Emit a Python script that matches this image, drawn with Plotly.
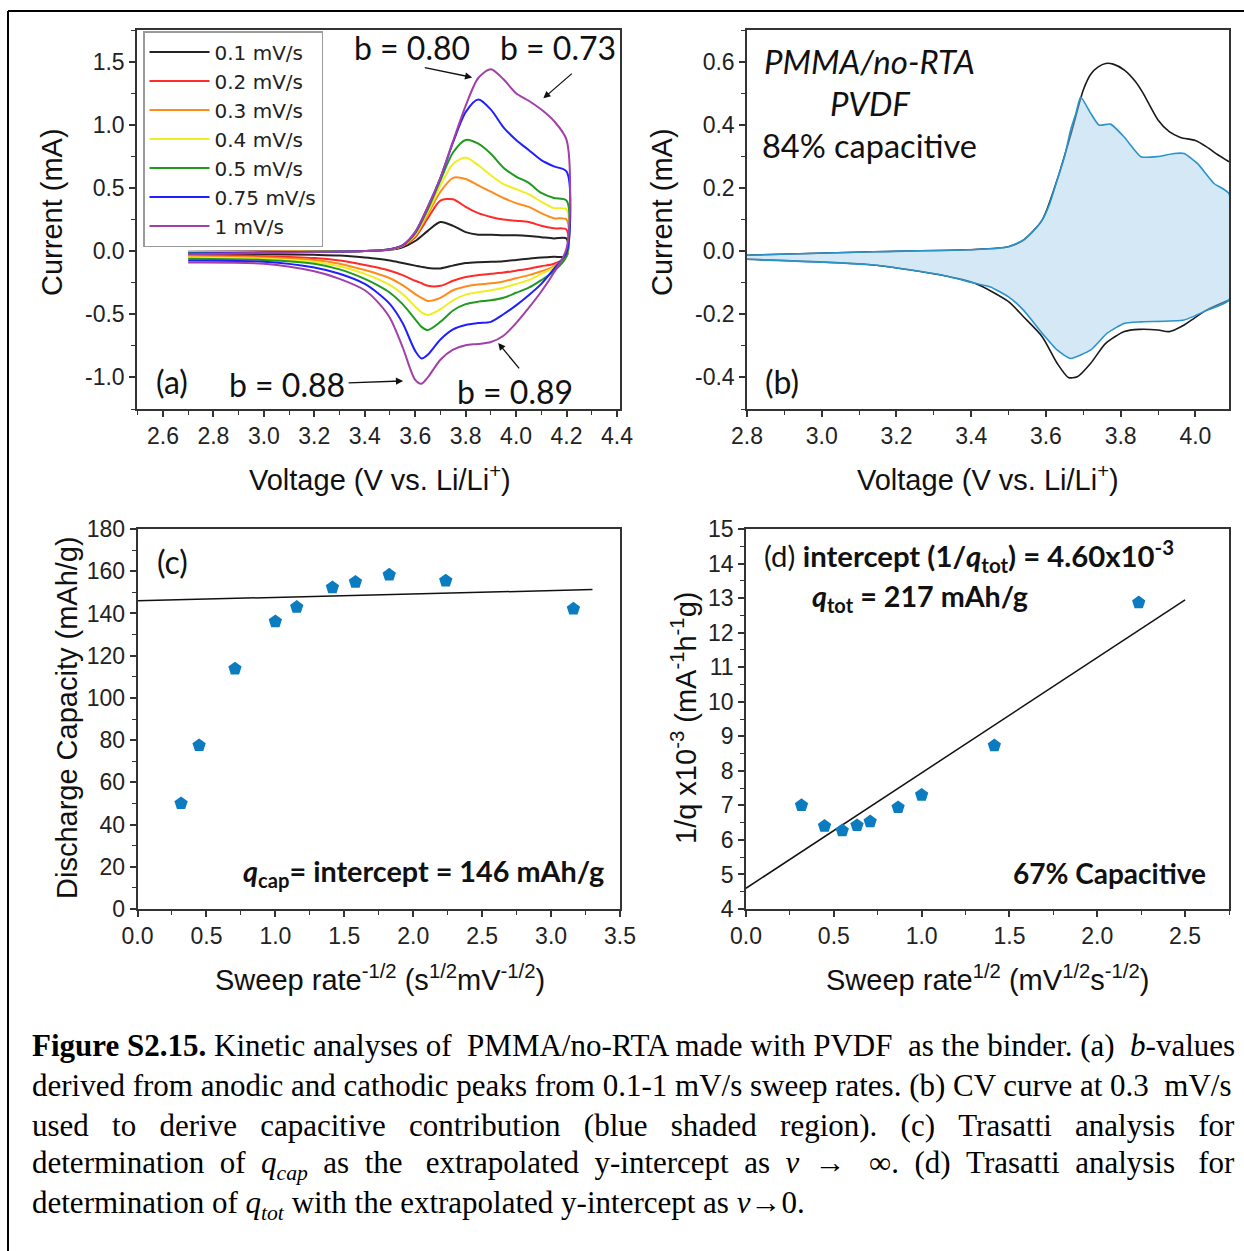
import plotly.graph_objects as go

W, H = 1244, 1251

# ---------------- data: panel (a) CV at several sweep rates ----------------
rates = ["0.1 mV/s", "0.2 mV/s", "0.3 mV/s", "0.4 mV/s", "0.5 mV/s", "0.75 mV/s", "1 mV/s"]
rate_colors = ["#222222", "#ff2a2a", "#ff8c1a", "#eeee22", "#1f9a1f", "#2020ff", "#a040a8"]

v_up = [2.7, 3.0, 3.2, 3.4, 3.5, 3.55, 3.6, 3.65, 3.7, 3.75, 3.8, 3.85, 3.9, 3.95, 4.0, 4.05, 4.1, 4.15, 4.2]
i_up_01 = [-0.005, -0.003, -0.002, 0.0, 0.01, 0.03, 0.08, 0.16, 0.23, 0.20, 0.15, 0.13, 0.13, 0.125, 0.125, 0.12, 0.11, 0.10, 0.10]
i_up_02 = [-0.008, -0.005, -0.003, 0.0, 0.012, 0.04, 0.11, 0.26, 0.40, 0.41, 0.35, 0.30, 0.27, 0.25, 0.24, 0.23, 0.20, 0.18, 0.17]
i_up_03 = [-0.01, -0.006, -0.003, 0.0, 0.013, 0.042, 0.12, 0.29, 0.47, 0.58, 0.57, 0.52, 0.47, 0.42, 0.38, 0.35, 0.30, 0.26, 0.25]
i_up_04 = [-0.012, -0.008, -0.004, 0.0, 0.014, 0.044, 0.13, 0.31, 0.52, 0.69, 0.74, 0.68, 0.60, 0.53, 0.49, 0.45, 0.39, 0.34, 0.33]
i_up_05 = [-0.015, -0.01, -0.005, 0.0, 0.015, 0.045, 0.14, 0.33, 0.56, 0.78, 0.88, 0.85, 0.77, 0.66, 0.59, 0.54, 0.46, 0.42, 0.40]
i_up_075 = [-0.02, -0.012, -0.006, 0.0, 0.015, 0.046, 0.15, 0.35, 0.58, 0.86, 1.10, 1.20, 1.12, 0.98, 0.88, 0.80, 0.72, 0.67, 0.63]
i_up_1 = [-0.025, -0.015, -0.008, 0.0, 0.015, 0.046, 0.15, 0.35, 0.58, 0.87, 1.15, 1.37, 1.44, 1.36, 1.25, 1.19, 1.12, 1.03, 0.88]

v_dn = [2.7, 3.0, 3.2, 3.3, 3.4, 3.45, 3.5, 3.55, 3.6, 3.625, 3.65, 3.7, 3.75, 3.8, 3.85, 3.9, 3.95, 4.0, 4.05, 4.1, 4.15, 4.2]
i_dn_01 = [-0.02, -0.025, -0.03, -0.035, -0.05, -0.06, -0.075, -0.095, -0.115, -0.125, -0.133, -0.137, -0.115, -0.095, -0.088, -0.085, -0.08, -0.07, -0.06, -0.05, -0.045, -0.04]
i_dn_02 = [-0.03, -0.04, -0.055, -0.075, -0.11, -0.13, -0.155, -0.19, -0.235, -0.255, -0.275, -0.275, -0.235, -0.205, -0.19, -0.18, -0.17, -0.155, -0.14, -0.12, -0.10, -0.04]
i_dn_03 = [-0.04, -0.05, -0.07, -0.10, -0.15, -0.18, -0.215, -0.27, -0.34, -0.37, -0.395, -0.37, -0.31, -0.28, -0.265, -0.255, -0.24, -0.215, -0.19, -0.16, -0.12, -0.04]
i_dn_04 = [-0.05, -0.06, -0.085, -0.12, -0.18, -0.22, -0.27, -0.34, -0.44, -0.485, -0.505, -0.46, -0.39, -0.345, -0.325, -0.31, -0.29, -0.26, -0.23, -0.18, -0.13, -0.04]
i_dn_05 = [-0.06, -0.07, -0.10, -0.145, -0.22, -0.27, -0.33, -0.42, -0.54, -0.60, -0.625, -0.56, -0.47, -0.42, -0.40, -0.39, -0.37, -0.33, -0.29, -0.23, -0.16, -0.04]
i_dn_075 = [-0.075, -0.085, -0.13, -0.18, -0.26, -0.33, -0.42, -0.57, -0.79, -0.85, -0.82, -0.70, -0.62, -0.585, -0.57, -0.56, -0.50, -0.43, -0.35, -0.26, -0.14, -0.01]
i_dn_1 = [-0.09, -0.10, -0.16, -0.22, -0.31, -0.40, -0.53, -0.76, -1.02, -1.05, -1.00, -0.86, -0.78, -0.745, -0.735, -0.72, -0.67, -0.57, -0.45, -0.32, -0.17, 0.02]

up_sets = [i_up_01, i_up_02, i_up_03, i_up_04, i_up_05, i_up_075, i_up_1]
dn_sets = [i_dn_01, i_dn_02, i_dn_03, i_dn_04, i_dn_05, i_dn_075, i_dn_1]

# ---------------- data: panel (b) CV at 0.3 mV/s ----------------
tot_up_v = [2.8, 3.14, 3.41, 3.5, 3.54, 3.59, 3.63, 3.67, 3.70, 3.72, 3.74, 3.76, 3.78, 3.81, 3.84, 3.86, 3.90, 3.93, 3.96, 4.0, 4.03, 4.06, 4.09]
tot_up_i = [-0.013, -0.002, 0.005, 0.014, 0.035, 0.098, 0.225, 0.383, 0.51, 0.56, 0.583, 0.594, 0.592, 0.573, 0.536, 0.50, 0.415, 0.378, 0.36, 0.35, 0.33, 0.305, 0.283]
tot_dn_v = [2.8, 3.14, 3.32, 3.41, 3.5, 3.54, 3.59, 3.63, 3.66, 3.684, 3.72, 3.76, 3.81, 3.85, 3.90, 3.93, 3.97, 3.99, 4.03, 4.09]
tot_dn_i = [-0.026, -0.044, -0.076, -0.102, -0.16, -0.208, -0.271, -0.355, -0.40, -0.398, -0.355, -0.292, -0.255, -0.248, -0.25, -0.255, -0.234, -0.218, -0.187, -0.155]

cap_up_v = [2.8, 3.14, 3.41, 3.5, 3.54, 3.565, 3.59, 3.61, 3.63, 3.65, 3.666, 3.68, 3.693, 3.72, 3.742, 3.773, 3.809, 3.854, 3.898, 3.943, 3.97, 4.006, 4.05, 4.09]
cap_up_i = [-0.013, -0.002, 0.005, 0.014, 0.035, 0.062, 0.098, 0.15, 0.225, 0.30, 0.383, 0.435, 0.488, 0.436, 0.399, 0.402, 0.362, 0.299, 0.299, 0.309, 0.309, 0.277, 0.214, 0.182]
cap_dn_v = [2.8, 3.14, 3.32, 3.41, 3.45, 3.5, 3.54, 3.59, 3.63, 3.666, 3.72, 3.764, 3.809, 3.854, 3.97, 4.032, 4.09]
cap_dn_i = [-0.026, -0.044, -0.076, -0.102, -0.113, -0.145, -0.187, -0.26, -0.313, -0.34, -0.313, -0.26, -0.229, -0.224, -0.218, -0.187, -0.155]

# ---------------- data: panel (c) Trasatti, q vs v^-1/2 ----------------
c_x = [0.316, 0.447, 0.707, 1.0, 1.155, 1.414, 1.581, 1.826, 2.236, 3.162]
c_q = [50.0, 77.5, 113.8, 136.2, 143.0, 152.3, 154.9, 158.3, 155.5, 142.2]
c_fit_x = [0.0, 3.3]
c_fit_q = [146.0, 151.3]

# ---------------- data: panel (d) Trasatti, 1/q vs v^1/2 ----------------
d_x = [0.316, 0.447, 0.548, 0.632, 0.707, 0.866, 1.0, 1.414, 2.236]
d_invq = [7.00, 6.40, 6.27, 6.42, 6.53, 6.94, 7.30, 8.73, 12.87]
d_fit_x = [0.0, 2.5]
d_fit_invq = [4.60, 12.95]

# tick values
a_yticks = [-1.0, -0.5, 0.0, 0.5, 1.0, 1.5]
b_yticks = [-0.4, -0.2, 0.0, 0.2, 0.4, 0.6]

# ---------------- styling helpers ----------------
SANS = "Liberation Sans, Arial, sans-serif"
CAL = "Lato, Carlito, Calibri, sans-serif"
SERIF = "Liberation Serif, Times New Roman, serif"
AX = "#333333"
MARK = "#0b7cc0"


def px(x):
    return x / W


def py(y):
    return 1 - y / H


fig = go.Figure()

# panel (a)
for name, col, iu, idn in zip(rates, rate_colors, up_sets, dn_sets):
    fig.add_trace(go.Scatter(
        x=v_up + v_dn[::-1], y=iu + idn[::-1], mode="lines", name=name,
        line=dict(color=col, width=2, shape="spline", smoothing=0.8),
        xaxis="x", yaxis="y", showlegend=True))

# panel (b)
fig.add_trace(go.Scatter(x=tot_up_v, y=tot_up_i, mode="lines", showlegend=False,
                         line=dict(color="#1a1a1a", width=1.6, shape="spline", smoothing=0.7),
                         xaxis="x2", yaxis="y2"))
fig.add_trace(go.Scatter(x=tot_dn_v, y=tot_dn_i, mode="lines", showlegend=False,
                         line=dict(color="#1a1a1a", width=1.6, shape="spline", smoothing=0.7),
                         xaxis="x2", yaxis="y2"))
fig.add_trace(go.Scatter(x=cap_up_v + cap_dn_v[::-1], y=cap_up_i + cap_dn_i[::-1], mode="lines",
                         showlegend=False, fill="toself", fillcolor="rgba(160,205,235,0.45)",
                         line=dict(color="#2a93cc", width=1.6, shape="spline", smoothing=0.5),
                         xaxis="x2", yaxis="y2"))

# panel (c)
fig.add_trace(go.Scatter(x=c_fit_x, y=c_fit_q, mode="lines", showlegend=False,
                         line=dict(color="#111111", width=1.5), xaxis="x3", yaxis="y3"))
fig.add_trace(go.Scatter(x=c_x, y=c_q, mode="markers", showlegend=False,
                         marker=dict(symbol="pentagon", size=14, color=MARK, line=dict(width=0)),
                         xaxis="x3", yaxis="y3"))

# panel (d)
fig.add_trace(go.Scatter(x=d_fit_x, y=d_fit_invq, mode="lines", showlegend=False,
                         line=dict(color="#111111", width=1.5), xaxis="x4", yaxis="y4"))
fig.add_trace(go.Scatter(x=d_x, y=d_invq, mode="markers", showlegend=False,
                         marker=dict(symbol="pentagon", size=14, color=MARK, line=dict(width=0)),
                         xaxis="x4", yaxis="y4"))


def axis(domain, rng, dtick, minor_dtick, anchor, fmt=None, tick0=None, tickvals=None):
    d = dict(domain=domain, range=rng, dtick=dtick, anchor=anchor, automargin=False,
             showgrid=False, zeroline=False, showline=True, linecolor=AX, linewidth=1.5,
             mirror=True, ticks="outside", ticklen=6, tickwidth=1.5, tickcolor=AX,
             tickfont=dict(family=SANS, size=23, color="#222222"),
             minor=dict(dtick=minor_dtick, ticks="outside", ticklen=4, tickwidth=1.2, tickcolor=AX, showgrid=False))
    if fmt:
        d["tickformat"] = fmt
    if tick0 is not None:
        d["tick0"] = tick0
        d["minor"]["tick0"] = tick0
    if tickvals is not None:
        d["tickmode"] = "array"
        d["tickvals"] = tickvals
        d["ticktext"] = ["%.1f" % v for v in tickvals]
    return d


xa = [px(137), px(619.5)]
xb = [px(747), px(1229)]
xc = [px(137.5), px(620)]
xd = [px(746), px(1229)]
ytop = [py(409), py(30)]
ybot = [py(909), py(529)]

fig.update_layout(
    template=None, autosize=False,
    width=W, height=H, margin=dict(l=0, r=0, t=0, b=0, pad=0, autoexpand=False),
    paper_bgcolor="white", plot_bgcolor="white",
    xaxis=axis(xa, [2.497, 4.41], 0.2, 0.1, "y", ".1f", tick0=2.6),
    yaxis=axis(ytop, [-1.25, 1.75], 0.5, 0.25, "x", tick0=0, tickvals=a_yticks),
    xaxis2=axis(xb, [2.8, 4.09], 0.2, 0.1, "y2", ".1f", tick0=2.8),
    yaxis2=axis(ytop, [-0.5, 0.7], 0.2, 0.1, "x2", tick0=0, tickvals=b_yticks),
    xaxis3=axis(xc, [0, 3.5], 0.5, 0.25, "y3", ".1f", tick0=0),
    yaxis3=axis(ybot, [0, 180], 20, 10, "x3", None, tick0=0),
    xaxis4=axis(xd, [0, 2.75], 0.5, 0.25, "y4", ".1f", tick0=0),
    yaxis4=axis(ybot, [4, 15], 1, 0.5, "x4", None, tick0=4),
    legend=dict(x=px(143), y=py(31), xanchor="left", yanchor="top", bgcolor="white",
                bordercolor="#9a9a9a", borderwidth=1.5, tracegroupgap=0, itemwidth=60,
                font=dict(family="DejaVu Sans, Liberation Sans, sans-serif", size=20, color="#222222")),
)

ann = []


def text(x, y, s, size, family=CAL, xanchor="center", color="#111111", angle=None):
    a = dict(x=px(x), y=py(y), xref="paper", yref="paper", text=s, showarrow=False,
             xanchor=xanchor, yanchor="middle", font=dict(family=family, size=size, color=color))
    if angle is not None:
        a["textangle"] = angle
    ann.append(a)


# axis titles
text(52, 212, "Current (mA)", 29, SANS, angle=-90)
text(380, 478, "Voltage (V vs. Li/Li<sup>+</sup>)", 29, SANS)
text(662, 212, "Current (mA)", 29, SANS, angle=-90)
text(988, 478, "Voltage (V vs. Li/Li<sup>+</sup>)", 29, SANS)
text(67, 718, "Discharge Capacity (mAh/g)", 29, SANS, angle=-90)
text(380, 978, "Sweep rate<sup>-1/2</sup> (s<sup>1/2</sup>mV<sup>-1/2</sup>)", 29, SANS)
text(684, 718, "1/q x10<sup>-3</sup> (mA<sup>-1</sup>h<sup>-1</sup>g)", 29, SANS, angle=-90)
text(988, 978, "Sweep rate<sup>1/2</sup> (mV<sup>1/2</sup>s<sup>-1/2</sup>)", 29, SANS)

# panel (a) labels
text(172, 382, "(a)", 32)
text(287, 384, "b = 0.88", 32)
text(515, 391, "b = 0.89", 32)
text(412, 48, "b = 0.80", 32)
text(558, 48, "b = 0.73", 32)

# panel (a) arrows (head, tail in data coordinates)
arrows_a = [((3.826, 1.375), (3.632, 1.455)),
            ((4.108, 1.209), (4.227, 1.415)),
            ((3.552, -1.028), (3.33, -1.043)),
            ((3.929, -0.727), (4.017, -0.941))]
for (hx, hy), (tx, ty) in arrows_a:
    ann.append(dict(x=hx, y=hy, ax=tx, ay=ty, xref="x", yref="y", axref="x", ayref="y",
                    text="", showarrow=True, arrowhead=2, arrowsize=1.1, arrowwidth=1.3,
                    arrowcolor="#111111"))

# panel (b) labels
text(869, 61, "<i>PMMA/no-RTA</i>", 33)
text(870, 103, "<i>PVDF</i>", 33)
text(869, 145, "84% capacitive", 32.5)
text(782, 381, "(b)", 32)

# panel (c) labels
text(172, 562, "(c)", 32)
text(423, 873, "<b><i>q</i><sub>cap</sub>= intercept = 146 mAh/g</b>", 28.8)

# panel (d) labels
text(762, 556, "(d) <b>intercept (1/<i>q</i><sub>tot</sub>) = 4.60x10<sup>-3</sup></b>", 29.3, xanchor="left")
text(810, 598, "<b><i>q</i><sub>tot</sub> = 217 mAh/g</b>", 28.7, xanchor="left")
text(1208, 873, "<b>67% Capacitive</b>", 28, xanchor="right")

# caption (justified lines padded with evenly spread non-breaking spaces)
NB = "\u00a0"


def jline(words, extra):
    gaps = len(words) - 1
    out = words[0]
    for k, w in enumerate(words[1:]):
        n = ((k + 1) * extra) // gaps - (k * extra) // gaps
        out += " " + NB * n + w
    return out


cap_lines = [
    jline(["<b>Figure", "S2.15.</b>", "Kinetic", "analyses", "of", "PMMA/no-RTA", "made", "with", "PVDF",
           "as", "the", "binder.", "(a)", "<i>b</i>-values"], 3),
    jline(["derived", "from", "anodic", "and", "cathodic", "peaks", "from", "0.1-1", "mV/s", "sweep",
           "rates.", "(b)", "CV", "curve", "at", "0.3", "mV/s"], 1),
    jline(["used", "to", "derive", "capacitive", "contribution", "(blue", "shaded",
           "region).", "(c)", "Trasatti", "analysis", "for"], 22),
    jline(["determination", "of", "<i>q<sub>cap</sub></i>", "as", "the", "extrapolated",
           "y-intercept", "as", "<i>v</i>", "\u2192", "\u221e.", "(d)", "Trasatti", "analysis", "for"], 17),
    "determination of <i>q<sub>tot</sub></i> with the extrapolated y-intercept as <i>v</i>\u21920.",
]
cap_y = [1045, 1085, 1125, 1165, 1205]
for s, yy in zip(cap_lines, cap_y):
    text(30, yy, s, 31, SERIF, xanchor="left", color="#000000")

fig.update_layout(annotations=ann)

# outer frame (left and top edges visible)
fig.add_shape(type="line", xref="paper", yref="paper", x0=px(8), x1=px(1244), y0=py(11), y1=py(11),
              line=dict(color="black", width=2))
fig.add_shape(type="line", xref="paper", yref="paper", x0=px(8), x1=px(8), y0=py(11), y1=py(1251),
              line=dict(color="black", width=2))

fig.write_html("out.html", config={"displayModeBar": False, "responsive": False},
               post_script=("document.body.style.margin='0px';"
                            "document.body.style.overflow='hidden';"
                            "document.documentElement.style.overflow='hidden';"))
